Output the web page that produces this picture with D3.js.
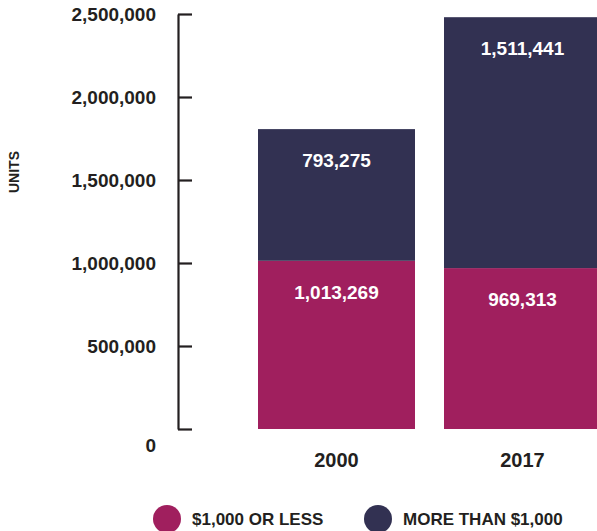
<!DOCTYPE html>
<html>
<head>
<meta charset="utf-8">
<script src="https://cdn.jsdelivr.net/npm/d3@7"></script>
<style>
  html, body { margin: 0; padding: 0; background: #fff; }
  svg { display: block; }
  text { font-family: "Liberation Sans", Arial, sans-serif; }
</style>
</head>
<body>
<svg id="chart" width="597" height="531"></svg>
<script>
// Housing units by monthly rent, two survey years
const years = ["2000", "2017"];
const lowRent = [1013269, 969313];      // $1,000 or less
const highRent = [793275, 1511441];     // more than $1,000
const seriesNames = ["$1,000 OR LESS", "MORE THAN $1,000"];
const seriesColors = ["#a01f5e", "#323152"];
const yTicks = [0, 500000, 1000000, 1500000, 2000000, 2500000];

const svg = d3.select("#chart");
const ink = "#231f20";

const rows = years.map((yr, i) => ({ year: yr, low: lowRent[i], high: highRent[i] }));
const stack = d3.stack().keys(["low", "high"])(rows);

const x = d3.scaleBand().domain(years).range([258, 601]).paddingInner(0.156).paddingOuter(0);
const y = d3.scaleLinear().domain([0, 2500000]).range([429, 14]);
const fmt = d3.format(",");

// stacked bars
const layers = svg.append("g").selectAll("g")
  .data(stack).join("g")
  .attr("fill", (d, i) => seriesColors[i]);

layers.selectAll("rect")
  .data(d => d)
  .join("rect")
  .attr("x", d => x(d.data.year))
  .attr("y", d => y(d[1]))
  .attr("width", x.bandwidth())
  .attr("height", d => y(d[0]) - y(d[1]));

// segment value labels, placed near the top of each segment
layers.selectAll("text")
  .data(d => d)
  .join("text")
  .attr("x", d => x(d.data.year) + x.bandwidth() / 2)
  .attr("y", d => y(d[1]) + 38)
  .attr("text-anchor", "middle")
  .attr("fill", "#fff")
  .attr("font-size", 19)
  .attr("font-weight", 700)
  .text(d => fmt(d[1] - d[0]));

// y axis with ticks pointing into the plot
const axis = svg.append("g")
  .attr("transform", "translate(178,0)")
  .call(d3.axisLeft(y).tickValues(yTicks).tickFormat(fmt)
    .tickSizeInner(-14).tickSizeOuter(0).tickPadding(22));
axis.selectAll("path, line").attr("stroke", ink).attr("stroke-width", 2.2);
axis.selectAll("text")
  .attr("fill", ink)
  .attr("font-size", 19)
  .attr("font-weight", 700)
  .style("font-family", "'Liberation Sans', Arial, sans-serif");
axis.selectAll(".tick").filter(d => d === 0).select("text").attr("dy", "1.2em");

// y axis title
svg.append("text")
  .attr("transform", "translate(19,172) rotate(-90)")
  .attr("text-anchor", "middle")
  .attr("fill", ink)
  .attr("font-size", 14)
  .attr("font-weight", 700)
  .text("UNITS");

// category labels
svg.append("g").selectAll("text")
  .data(years).join("text")
  .attr("x", d => x(d) + x.bandwidth() / 2)
  .attr("y", 467)
  .attr("text-anchor", "middle")
  .attr("fill", ink)
  .attr("font-size", 20)
  .attr("font-weight", 700)
  .text(d => d);

// legend
const legendX = [167, 378];
const legend = svg.append("g").selectAll("g")
  .data(seriesNames).join("g")
  .attr("transform", (d, i) => `translate(${legendX[i]},519)`);
legend.append("circle").attr("r", 14).attr("fill", (d, i) => seriesColors[i]);
legend.append("text")
  .attr("x", 25)
  .attr("dy", "0.36em")
  .attr("fill", ink)
  .attr("font-size", 17)
  .attr("font-weight", 700)
  .text(d => d);
</script>
</body>
</html>
